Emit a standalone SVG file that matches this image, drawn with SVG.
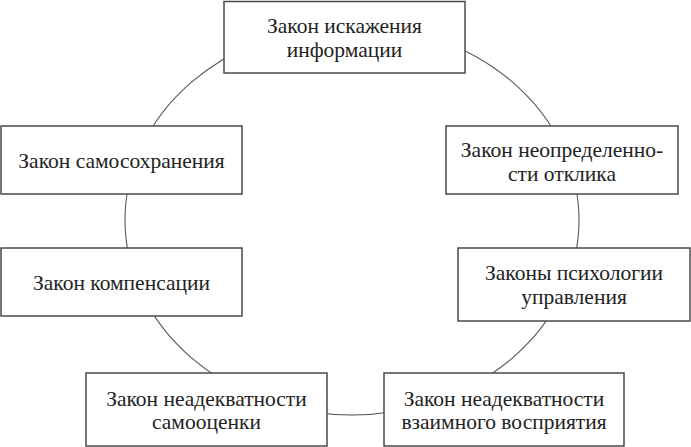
<svg xmlns="http://www.w3.org/2000/svg" width="691" height="447" viewBox="0 0 691 447">
<style>
.box{fill:#fff;stroke:#4a4a4a;stroke-width:1.5}
.ring{fill:none;stroke:#555;stroke-width:1.1}
.t{font-family:'Liberation Serif','Times New Roman','DejaVu Serif',serif;font-size:21.5px;fill:#222;text-anchor:middle}
</style>
<rect width="691" height="447" fill="#fff"/>
<g id="connectors">
<ellipse class="ring" cx="352" cy="220" rx="227" ry="195"/>
</g>
<g id="n1"><rect class="box" x="224" y="1.5" width="241" height="71.5"/><text class="t" x="344.5" y="33">Закон искажения</text><text class="t" x="344.5" y="57">информации</text></g>
<g id="n2"><rect class="box" x="446" y="126" width="232" height="68"/><text class="t" x="562" y="157">Закон неопределенно-</text><text class="t" x="562" y="181">сти отклика</text></g>
<g id="n3"><rect class="box" x="458" y="248" width="232" height="73"/><text class="t" x="574" y="280">Законы психологии</text><text class="t" x="574" y="304">управления</text></g>
<g id="n4"><rect class="box" x="384" y="373" width="240" height="73"/><text class="t" x="504" y="406">Закон неадекватности</text><text class="t" x="504" y="429">взаимного восприятия</text></g>
<g id="n5"><rect class="box" x="86" y="373" width="241" height="73"/><text class="t" x="206.5" y="406">Закон неадекватности</text><text class="t" x="206.5" y="429">самооценки</text></g>
<g id="n6"><rect class="box" x="1" y="248" width="241" height="68"/><text class="t" x="121.5" y="290">Закон компенсации</text></g>
<g id="n7"><rect class="box" x="1" y="126" width="241" height="68"/><text class="t" x="121.5" y="168">Закон самосохранения</text></g>
</svg>
